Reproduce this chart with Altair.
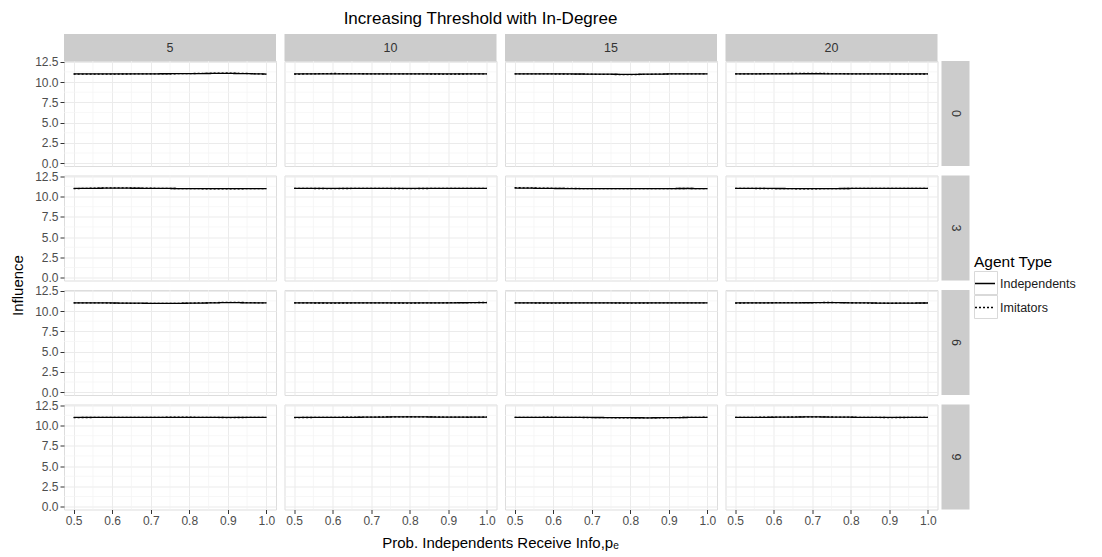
import altair as alt
import pandas as pd

# ---------------- data ----------------
X_VALUES = [0.5, 0.55, 0.6, 0.65, 0.7, 0.75, 0.8, 0.85, 0.9, 0.95, 1.0]
ROW_LEVELS = [0, 3, 6, 9]
COL_LEVELS = [5, 10, 15, 20]
AGENTS = ["Independents", "Imitators"]

INDEPENDENTS = {
    0: [
        [11.00, 11.00, 11.00, 11.01, 11.02, 11.03, 11.04, 11.06, 11.07, 11.04, 10.99],
        [11.00, 11.01, 11.02, 11.02, 11.01, 11.00, 11.00, 11.00, 11.00, 11.00, 11.00],
        [11.00, 11.00, 11.00, 11.00, 10.99, 10.97, 10.95, 10.98, 11.00, 11.00, 11.00],
        [11.00, 11.00, 11.01, 11.02, 11.03, 11.02, 11.00, 11.00, 11.00, 11.00, 11.00],
    ],
    3: [
        [11.00, 11.02, 11.04, 11.03, 11.02, 11.00, 10.98, 10.97, 10.97, 10.97, 10.98],
        [11.00, 11.00, 11.01, 11.01, 11.00, 11.00, 11.00, 11.00, 11.00, 11.00, 11.00],
        [11.05, 11.03, 11.00, 10.99, 10.98, 10.98, 10.98, 10.98, 10.99, 11.00, 10.98],
        [11.00, 11.00, 11.00, 10.99, 10.98, 10.99, 11.00, 11.00, 11.00, 11.00, 11.00],
    ],
    6: [
        [11.00, 11.00, 11.00, 10.98, 10.96, 10.95, 10.97, 11.00, 11.05, 11.02, 11.00],
        [11.00, 11.00, 11.00, 11.00, 11.00, 11.00, 11.00, 11.01, 11.02, 11.03, 11.05],
        [11.00, 11.00, 11.00, 11.00, 11.00, 11.00, 11.00, 11.00, 11.00, 11.00, 11.00],
        [11.00, 11.00, 11.01, 11.02, 11.03, 11.04, 11.02, 11.00, 10.98, 10.99, 11.00],
    ],
    9: [
        [11.00, 11.00, 11.00, 11.00, 11.01, 11.02, 11.02, 11.01, 11.00, 11.00, 11.00],
        [11.00, 11.00, 11.01, 11.02, 11.04, 11.06, 11.08, 11.06, 11.04, 11.03, 11.05],
        [11.00, 11.01, 11.02, 11.01, 11.00, 10.99, 10.97, 10.96, 10.98, 11.00, 11.02],
        [11.00, 11.01, 11.03, 11.05, 11.07, 11.05, 11.03, 11.01, 11.00, 11.00, 11.00],
    ],
}

IMITATORS = {
    0: [
        [10.97, 10.98, 10.99, 11.00, 11.01, 11.02, 11.05, 11.08, 11.12, 11.06, 10.98],
        [10.98, 11.02, 11.06, 11.04, 11.02, 11.00, 11.00, 11.00, 10.99, 11.00, 11.00],
        [11.01, 11.00, 11.00, 10.99, 10.97, 10.94, 10.92, 10.96, 11.00, 11.02, 11.00],
        [11.00, 11.02, 11.04, 11.06, 11.08, 11.05, 11.02, 11.00, 11.00, 10.99, 11.00],
    ],
    3: [
        [10.98, 11.04, 11.08, 11.06, 11.03, 11.00, 10.98, 10.96, 10.96, 10.97, 10.98],
        [11.01, 11.00, 10.99, 11.00, 11.01, 11.00, 10.99, 11.00, 11.01, 11.00, 11.01],
        [11.10, 11.06, 11.02, 11.00, 10.98, 10.97, 10.97, 10.98, 10.99, 11.00, 10.98],
        [11.01, 11.00, 10.99, 10.97, 10.96, 10.98, 11.00, 11.01, 11.00, 11.00, 11.00],
    ],
    6: [
        [11.02, 11.02, 10.99, 10.96, 10.94, 10.94, 10.98, 11.03, 11.08, 11.05, 11.00],
        [11.01, 11.00, 10.99, 11.00, 11.01, 11.00, 10.99, 11.01, 11.03, 11.05, 11.06],
        [11.01, 11.00, 10.99, 11.00, 11.01, 11.00, 10.99, 11.00, 11.01, 11.00, 11.00],
        [10.99, 11.01, 11.03, 11.04, 11.05, 11.06, 11.03, 10.99, 10.96, 10.98, 11.00],
    ],
    9: [
        [10.99, 11.00, 11.01, 11.00, 11.01, 11.03, 11.03, 11.01, 10.99, 11.00, 11.00],
        [10.99, 11.00, 11.02, 11.03, 11.05, 11.07, 11.09, 11.07, 11.05, 11.04, 11.06],
        [11.01, 11.02, 11.03, 11.01, 10.99, 10.97, 10.95, 10.94, 10.97, 11.01, 11.03],
        [11.00, 11.02, 11.04, 11.06, 11.08, 11.06, 11.03, 11.01, 10.99, 11.00, 11.01],
    ],
}

X_TICKS = [0.5, 0.6, 0.7, 0.8, 0.9, 1.0]
Y_TICKS = [0.0, 2.5, 5.0, 7.5, 10.0, 12.5]
X_MINOR = [0.55, 0.65, 0.75, 0.85, 0.95]
Y_MINOR = [1.25, 3.75, 6.25, 8.75, 11.25]

TITLE = "Increasing Threshold with In-Degree"
X_TITLE = "Prob. Independents Receive Info,p\u2091"
Y_TITLE = "Influence"
LEGEND_TITLE = "Agent Type"

# ---------------- table ----------------
records = []
for r in ROW_LEVELS:
    for ci, c in enumerate(COL_LEVELS):
        for agent, src in (("Independents", INDEPENDENTS), ("Imitators", IMITATORS)):
            for x, y in zip(X_VALUES, src[r][ci]):
                records.append({"row": r, "col": c, "p": x, "influence": y, "agent": agent})
df = pd.DataFrame(records)

# ---------------- layout ----------------
W, H = 212, 105
FONT = "Liberation Sans"
x_scale = alt.Scale(domain=[0.475, 1.025], nice=False, zero=False)
y_scale = alt.Scale(domain=[-0.35, 12.6], nice=False, zero=False)
dash_scale = alt.Scale(domain=AGENTS, range=[[1, 0], [2, 2]])

legend = alt.Legend(
    title=LEGEND_TITLE, orient="none", legendX=910, legendY=194,
    symbolType="stroke", symbolSize=400, symbolStrokeColor="black",
    symbolStrokeWidth=1.3, titleFontSize=15.5, titleFontWeight="normal",
    titleColor="black", titleFont=FONT, labelFont=FONT, labelFontSize=12.5,
    labelColor="#1a1a1a", rowPadding=6, titlePadding=2, labelOffset=4,
)


def make_axis(show, values):
    return alt.Axis(
        values=values, grid=True, labels=show, ticks=show, domain=False,
        title=None, format=".1f", labelFontSize=12, labelColor="#4d4d4d",
        labelFont=FONT, tickColor="#333333", tickSize=4, labelPadding=2,
        gridColor="#ebebeb", gridWidth=1,
    )


def panel(ri, ci):
    r = ROW_LEVELS[ri]
    c = COL_LEVELS[ci]
    xaxis = make_axis(ri == len(ROW_LEVELS) - 1, X_TICKS)
    yaxis = make_axis(ci == 0, Y_TICKS)

    minor_x = alt.Chart(pd.DataFrame({"v": X_MINOR})).mark_rule(
        color="#f4f4f4", strokeWidth=0.7
    ).encode(x=alt.X("v:Q", scale=x_scale, axis=xaxis))
    minor_y = alt.Chart(pd.DataFrame({"v": Y_MINOR})).mark_rule(
        color="#f4f4f4", strokeWidth=0.7
    ).encode(y=alt.Y("v:Q", scale=y_scale, axis=yaxis))

    lines = alt.Chart(df).transform_filter(
        (alt.datum.row == r) & (alt.datum.col == c)
    ).mark_line(color="black", strokeWidth=1.3).encode(
        x=alt.X("p:Q", scale=x_scale, axis=xaxis),
        y=alt.Y("influence:Q", scale=y_scale, axis=yaxis),
        strokeDash=alt.StrokeDash("agent:N", scale=dash_scale, legend=legend),
    )
    layers = [minor_x, minor_y, lines]

    if ri == 0:
        lab = pd.DataFrame({"lab": [str(c)]})
        layers.append(alt.Chart(lab).mark_rect(fill="#cccccc").encode(
            x=alt.value(0), x2=alt.value(W), y=alt.value(-27), y2=alt.value(0)))
        layers.append(alt.Chart(lab).mark_text(
            fontSize=12.5, color="#333333", font=FONT).encode(
            x=alt.value(W / 2), y=alt.value(-13.5), text="lab:N"))
    if ci == len(COL_LEVELS) - 1:
        lab = pd.DataFrame({"lab": [str(r)]})
        layers.append(alt.Chart(lab).mark_rect(fill="#cccccc").encode(
            x=alt.value(W + 4), x2=alt.value(W + 32), y=alt.value(0), y2=alt.value(H)))
        layers.append(alt.Chart(lab).mark_text(
            fontSize=12.5, color="#333333", font=FONT, angle=90).encode(
            x=alt.value(W + 18), y=alt.value(H / 2), text="lab:N"))
    if ri == 1 and ci == len(COL_LEVELS) - 1:
        # legend key boxes (ggplot style)
        for k in range(len(AGENTS)):
            kd = pd.DataFrame({"k": [AGENTS[k]]})
            layers.append(alt.Chart(kd).mark_rect(
                fill="white", fillOpacity=0, stroke="#d9d9d9", strokeWidth=1).encode(
                x=alt.value(249), x2=alt.value(272),
                y=alt.value(96 + 24 * k), y2=alt.value(119 + 24 * k)))
    if ri == 0 and ci == 0:
        t = pd.DataFrame({"t": [TITLE]})
        layers.append(alt.Chart(t).mark_text(
            fontSize=17, color="black", font=FONT, baseline="middle").encode(
            x=alt.value(416.5), y=alt.value(-42.5), text="t:N"))
    if ri == 1 and ci == 0:
        t = pd.DataFrame({"t": [Y_TITLE]})
        layers.append(alt.Chart(t).mark_text(
            fontSize=15, color="black", font=FONT, angle=270, baseline="middle").encode(
            x=alt.value(-46.5), y=alt.value(110), text="t:N"))
    if ri == len(ROW_LEVELS) - 1 and ci == 0:
        t = pd.DataFrame({"t": [X_TITLE]})
        layers.append(alt.Chart(t).mark_text(
            fontSize=15, color="black", font=FONT, baseline="middle").encode(
            x=alt.value(436.5), y=alt.value(H + 33), text="t:N"))

    return alt.layer(*layers).properties(width=W, height=H)


panels = [panel(ri, ci) for ri in range(len(ROW_LEVELS)) for ci in range(len(COL_LEVELS))]

chart = alt.concat(
    *panels, columns=4, spacing={"row": 9.5, "column": 8.5}, bounds="flush"
).properties(
    padding={"left": 10, "top": 9, "right": 5, "bottom": 5}
).configure_view(
    stroke="#bdbdbd", strokeWidth=1
).configure(
    font=FONT, background="white"
)

chart.save("out.html", embed_options={"renderer": "svg", "actions": False})
